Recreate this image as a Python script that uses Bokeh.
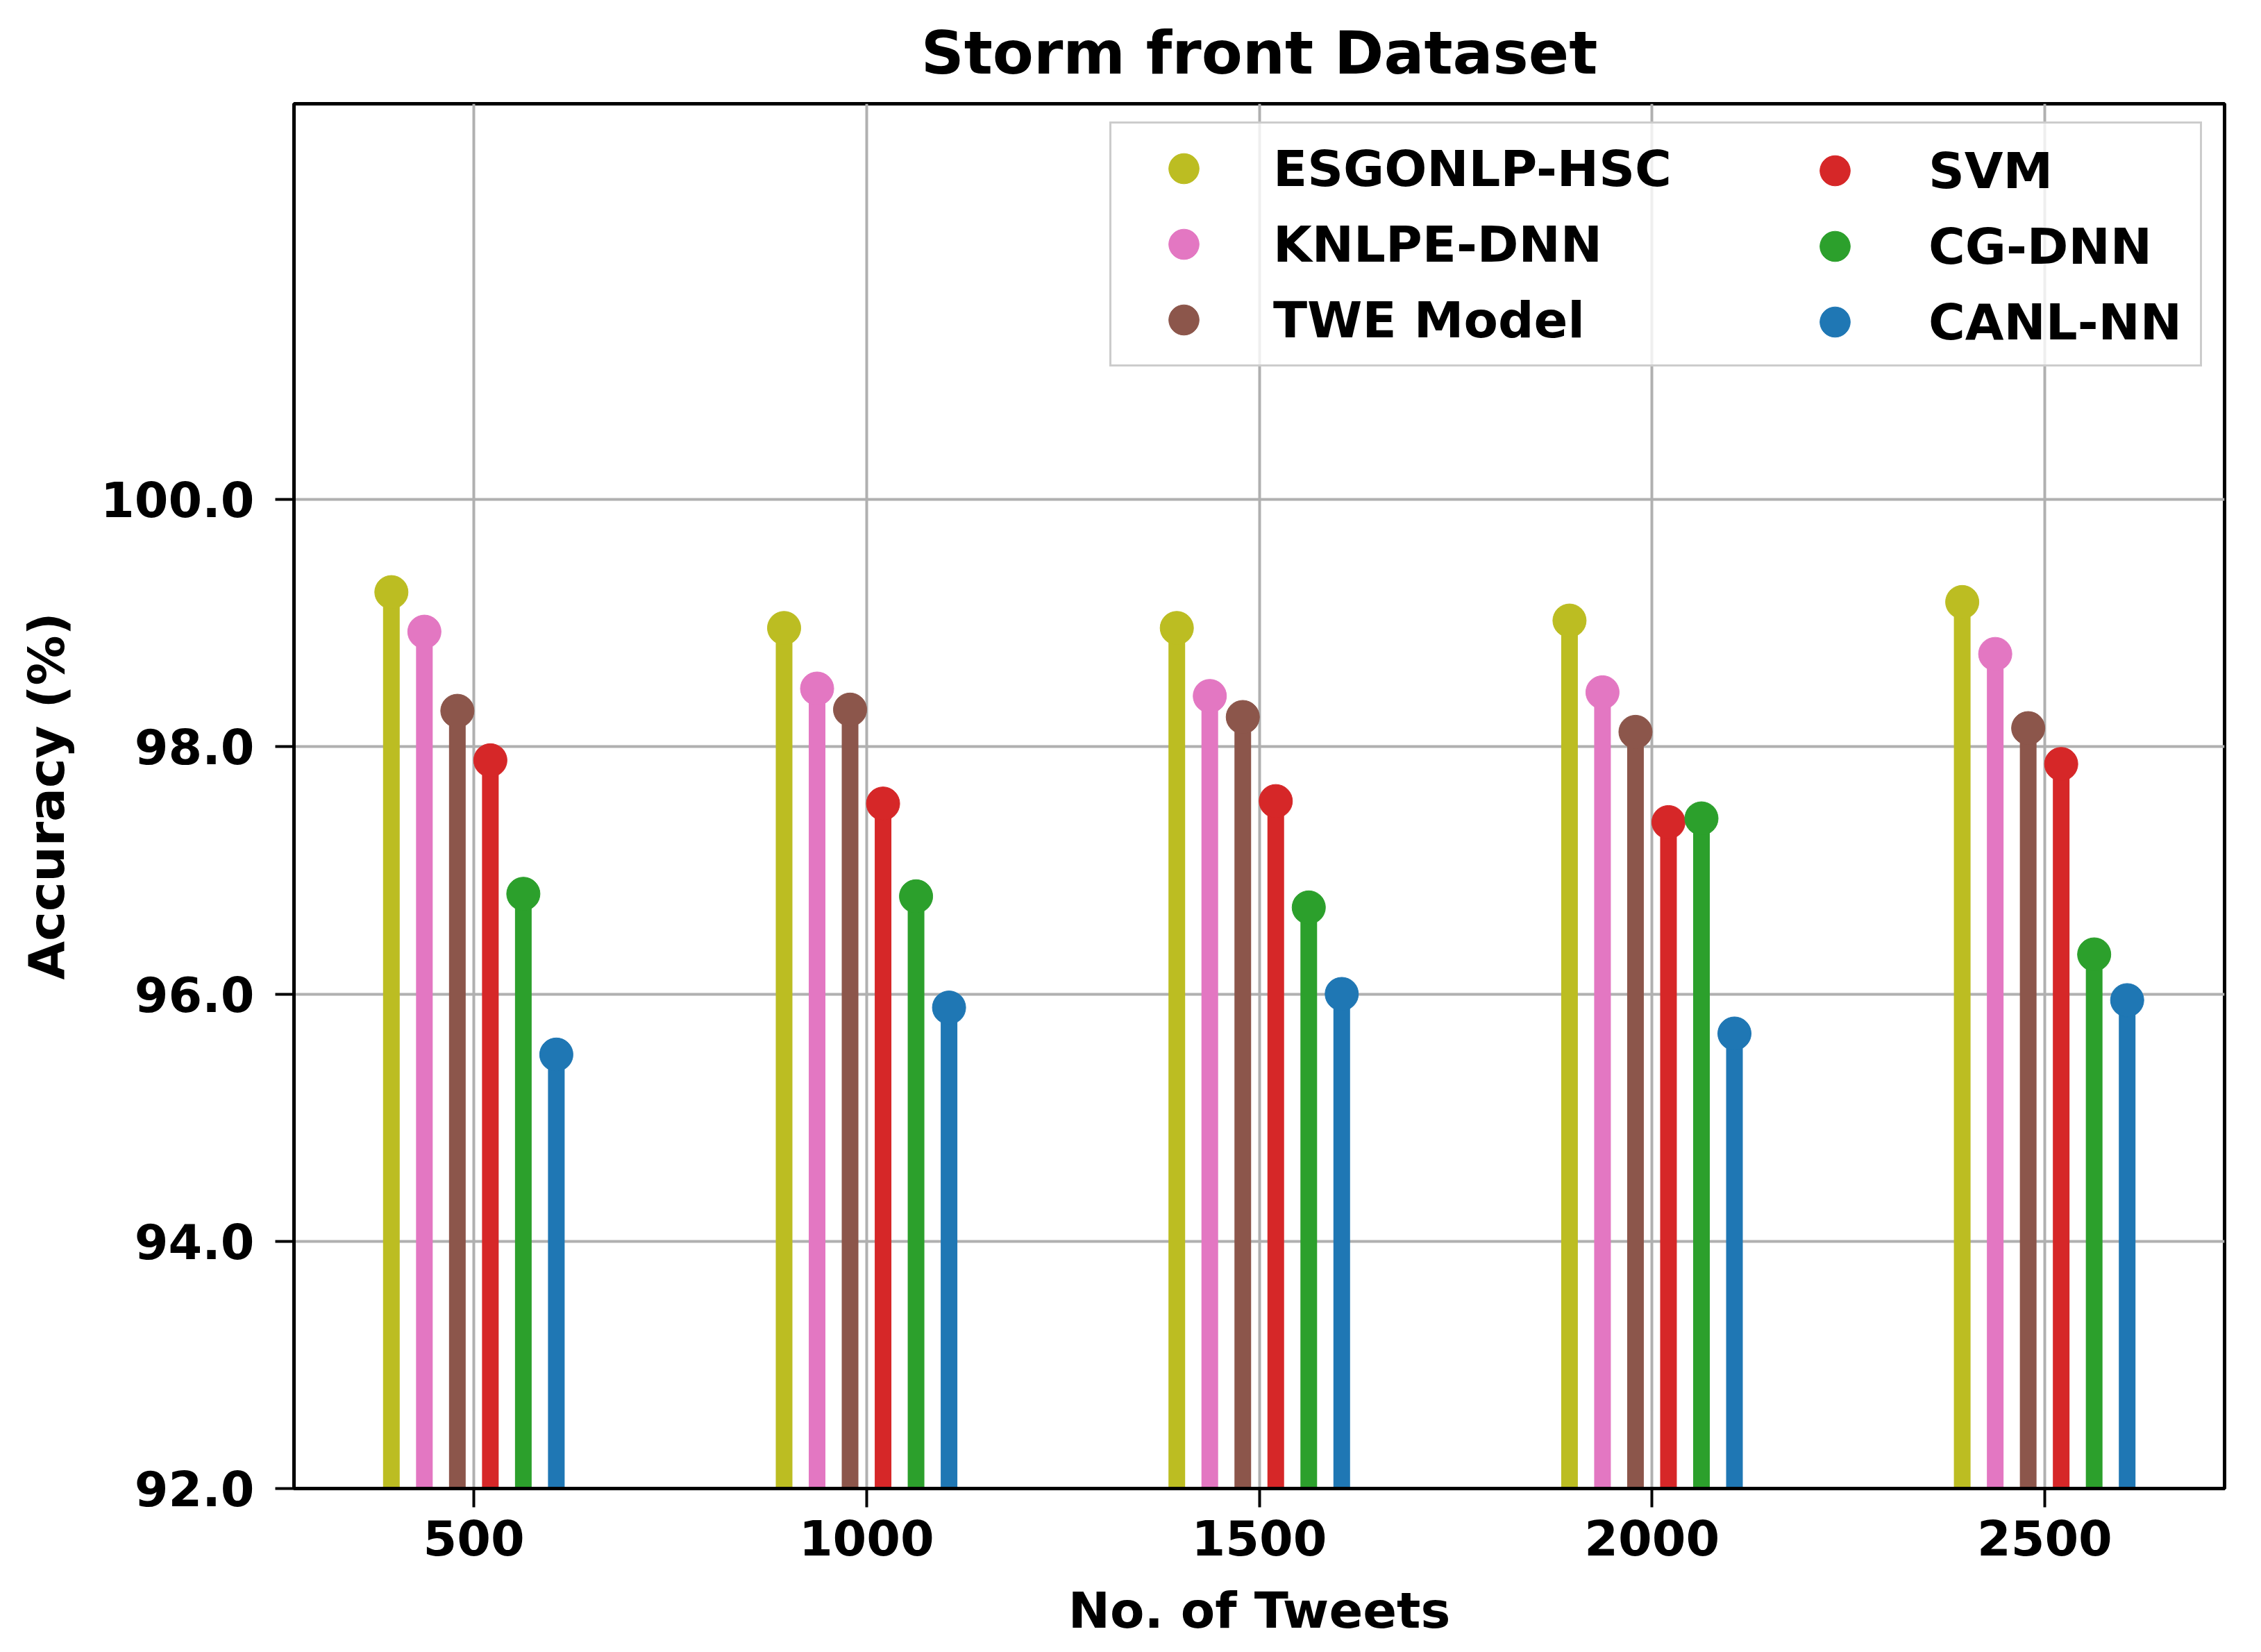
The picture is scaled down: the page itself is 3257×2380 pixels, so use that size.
from bokeh.plotting import figure
from bokeh.models import ColumnDataSource, Legend, LegendItem, FixedTicker, PrintfTickFormatter, Range1d
from bokeh.transform import dodge
from bokeh.embed import file_html
from bokeh.resources import INLINE

# ---- data ----
tweets = [500, 1000, 1500, 2000, 2500]
series_names = ["ESGONLP-HSC", "KNLPE-DNN", "TWE Model", "SVM", "CG-DNN", "CANL-NN"]
esgonlp_hsc = [99.25, 98.96, 98.96, 99.02, 99.17]
knlpe_dnn = [98.93, 98.47, 98.41, 98.44, 98.75]
twe_model = [98.29, 98.30, 98.24, 98.12, 98.15]
svm = [97.89, 97.54, 97.56, 97.39, 97.86]
cg_dnn = [96.81, 96.79, 96.70, 97.42, 96.32]
canl_nn = [95.51, 95.89, 96.00, 95.68, 95.95]
y_ticks = [92, 94, 96, 98, 100]

series_values = [esgonlp_hsc, knlpe_dnn, twe_model, svm, cg_dnn, canl_nn]
colors = ["#bcbd22", "#e377c2", "#8c564b", "#d62728", "#2ca02c", "#1f77b4"]
offsets = [-105, -63, -21, 21, 63, 105]

Y_MIN, Y_MAX = 92, 103.2
X_MIN, X_MAX = 271, 2729

FONT = "DejaVu Sans"

p = figure(width=3241, height=2364, output_backend="svg", toolbar_location=None,
           x_range=Range1d(X_MIN, X_MAX), y_range=Range1d(Y_MIN, Y_MAX),
           min_border_left=423, min_border_right=37, min_border_top=149, min_border_bottom=216)

p.title.text = "Storm front Dataset"
p.title.align = "center"
p.title.text_font = FONT
p.title.text_font_style = "bold"
p.title.text_font_size = "86px"
p.title.text_color = "black"
p.title.standoff = 47

p.outline_line_color = "black"
p.outline_line_width = 5
p.outline_line_alpha = 1.0
p.background_fill_color = "white"
p.border_fill_color = "white"

p.grid.grid_line_color = "#b0b0b0"
p.grid.grid_line_width = 4

for ax in (p.xaxis[0], p.yaxis[0]):
    ax.axis_line_width = 5
    ax.axis_line_color = "black"
    ax.major_tick_line_width = 4
    ax.major_tick_line_color = "black"
    ax.major_tick_out = 27
    ax.major_tick_in = 0
    ax.minor_tick_line_color = None
    ax.major_label_text_font = FONT
    ax.major_label_text_font_style = "bold"
    ax.major_label_text_font_size = "70px"
    ax.major_label_text_color = "black"
    ax.axis_label_text_font = FONT
    ax.axis_label_text_font_style = "bold"
    ax.axis_label_text_font_size = "72px"
    ax.axis_label_text_color = "black"

p.xaxis.ticker = FixedTicker(ticks=tweets)
p.yaxis.ticker = FixedTicker(ticks=y_ticks)
p.yaxis.formatter = PrintfTickFormatter(format="%.1f")
p.xaxis.axis_label = "No. of Tweets"
p.yaxis.axis_label = "Accuracy (%)"
p.xaxis.major_label_standoff = 18
p.yaxis.major_label_standoff = 30
p.xaxis.axis_label_standoff = 34
p.yaxis.axis_label_standoff = 33

items = []
for name, vals, col, off in zip(series_names, series_values, colors, offsets):
    src = ColumnDataSource(dict(x=tweets, y=vals))
    p.segment(x0=dodge("x", off), y0=Y_MIN, x1=dodge("x", off), y1="y", source=src,
              line_color=col, line_width=24, line_cap="butt")
    r = p.scatter(x=dodge("x", off), y="y", source=src, marker="circle", size=48,
                  fill_color=col, line_color=col)
    items.append(LegendItem(label=name, renderers=[r]))

common = dict(padding=10, spacing=0, glyph_width=188, glyph_height=109,
              label_text_font=FONT, label_text_font_style="bold", label_text_font_size="72px",
              label_text_color="black", label_height=109)

leg_a = Legend(items=items[:3], location=(1175, 1616), label_standoff=35, label_width=1325,
               border_line_color="#cccccc", border_line_width=3, border_line_alpha=1.0,
               background_fill_color="white", background_fill_alpha=0.8, **common)
leg_b = Legend(items=items[3:], location=(2116, 1616), label_standoff=41,
               border_line_alpha=0.0, background_fill_alpha=0.0, **common)
p.add_layout(leg_a)
p.add_layout(leg_b)

open("out.html", "w").write(file_html(p, INLINE))
